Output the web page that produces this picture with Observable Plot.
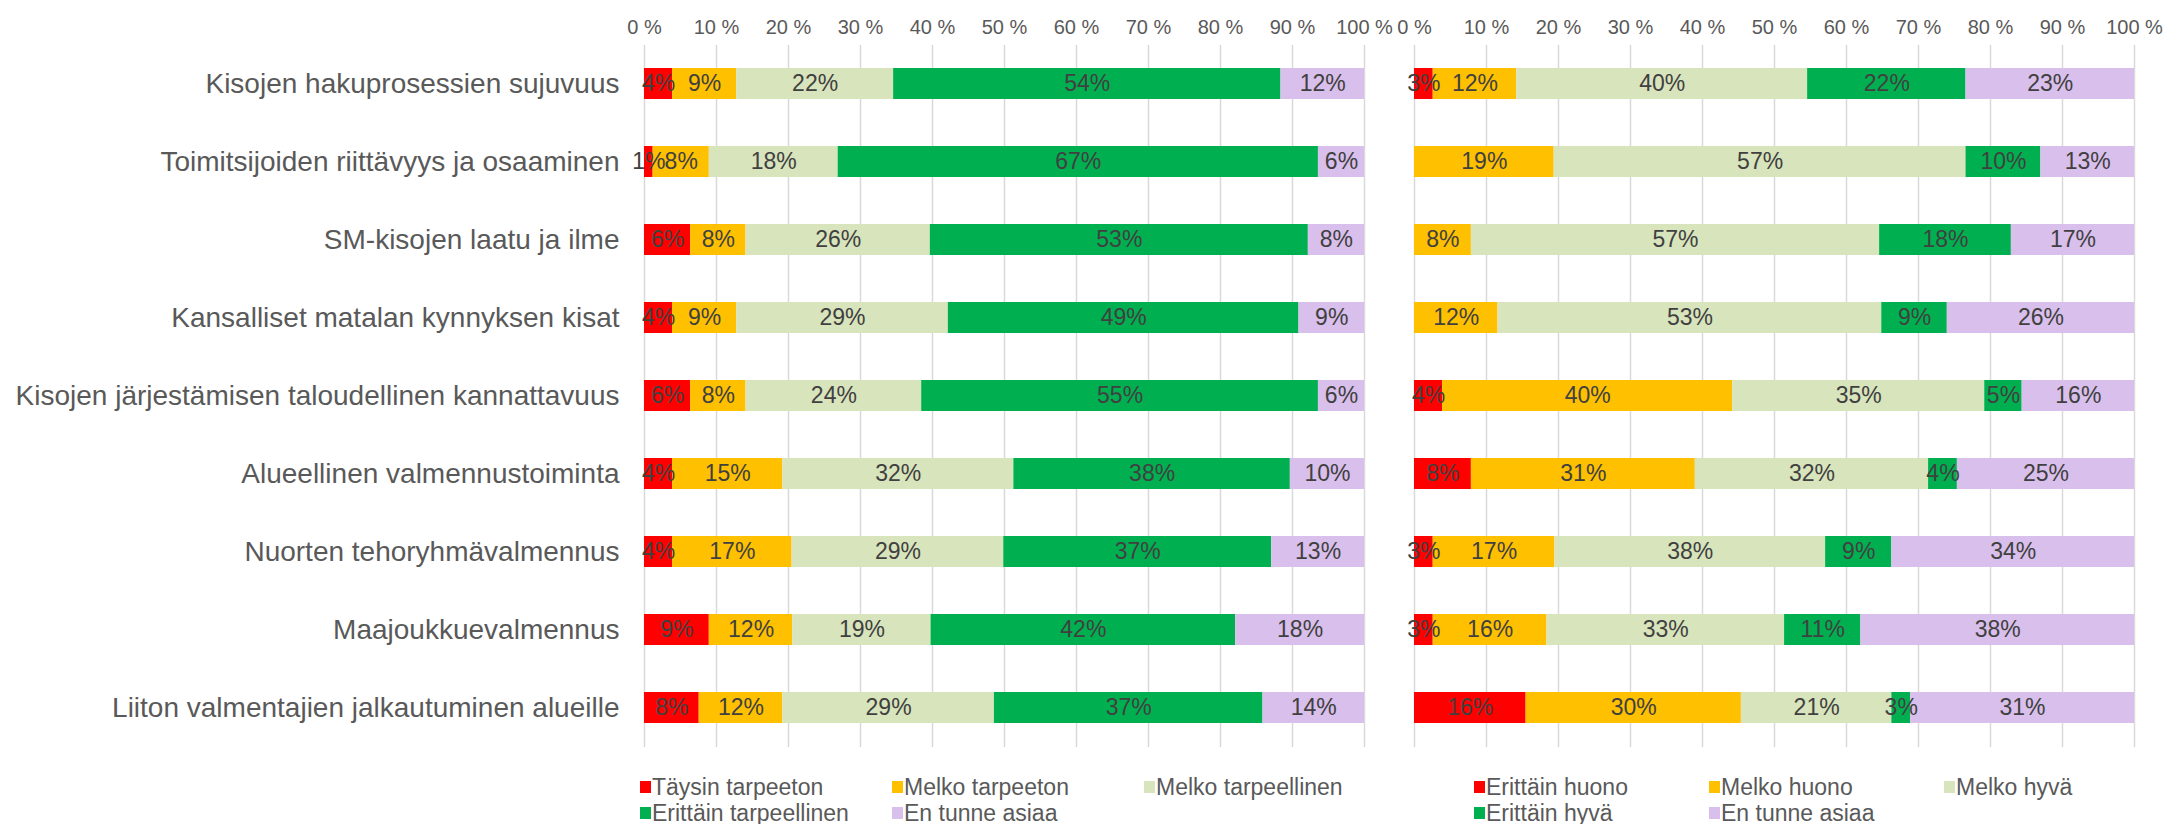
<!DOCTYPE html>
<html>
<head>
<meta charset="utf-8">
<script src="https://cdn.jsdelivr.net/npm/d3@7"></script>
<script src="https://cdn.jsdelivr.net/npm/@observablehq/plot@0.6"></script>
<style>
  html, body { margin: 0; padding: 0; background: #fff; }
  #wrap { position: relative; width: 2179px; height: 824px; font-family: "Liberation Sans", Arial, sans-serif; }
  .leg { position: absolute; height: 26px; line-height: 26px; font-size: 23px; color: #595959; white-space: nowrap; }
  .leg i { position: absolute; left: 0; top: 7px; width: 11px; height: 12px; }
  .leg span { position: absolute; left: 12px; top: 0; }
</style>
</head>
<body>
<div id="wrap"></div>
<script>
// ---- data ----
const items = [
  "Kisojen hakuprosessien sujuvuus",
  "Toimitsijoiden riittävyys ja osaaminen",
  "SM-kisojen laatu ja ilme",
  "Kansalliset matalan kynnyksen kisat",
  "Kisojen järjestämisen taloudellinen kannattavuus",
  "Alueellinen valmennustoiminta",
  "Nuorten tehoryhmävalmennus",
  "Maajoukkuevalmennus",
  "Liiton valmentajien jalkautuminen alueille"
];
const leftCategories = ["Täysin tarpeeton", "Melko tarpeeton", "Melko tarpeellinen", "Erittäin tarpeellinen", "En tunne asiaa"];
const rightCategories = ["Erittäin huono", "Melko huono", "Melko hyvä", "Erittäin hyvä", "En tunne asiaa"];
const colors = ["#FF0000", "#FFC000", "#D8E4BC", "#00B050", "#D9BFEB"];
const tickValues = [0, 10, 20, 30, 40, 50, 60, 70, 80, 90, 100];

// Left panel (tarpeellisuus), one array per category, in item order
const leftTaysinTarpeeton     = [3.9, 1.2, 6.4, 3.9, 6.4, 3.9, 3.9, 9.0, 7.6];
const leftMelkoTarpeeton      = [8.9, 7.8, 7.7, 8.9, 7.7, 15.3, 16.6, 11.6, 11.6];
const leftMelkoTarpeellinen   = [21.8, 17.9, 25.6, 29.4, 24.4, 32.1, 29.4, 19.2, 29.4];
const leftErittainTarpeellinen= [53.8, 66.7, 52.5, 48.7, 55.1, 38.4, 37.2, 42.3, 37.3];
const leftEnTunne             = [11.6, 6.4, 7.8, 9.1, 6.4, 10.3, 12.9, 17.9, 14.1];

// Right panel (onnistuminen)
const rightErittainHuono = [2.6, 0, 0, 0, 3.9, 7.9, 2.6, 2.6, 15.5];
const rightMelkoHuono    = [11.6, 19.4, 7.9, 11.6, 40.3, 31.1, 16.9, 15.8, 29.9];
const rightMelkoHyva     = [40.4, 57.2, 56.7, 53.3, 35.0, 32.4, 37.6, 33.0, 20.9];
const rightErittainHyva  = [22.0, 10.4, 18.3, 9.1, 5.2, 4.0, 9.2, 10.6, 2.6];
const rightEnTunne       = [23.4, 13.0, 17.1, 26.0, 15.6, 24.6, 33.7, 38.0, 31.1];

const panels = ["left", "right"];
const leftSeries = [leftTaysinTarpeeton, leftMelkoTarpeeton, leftMelkoTarpeellinen, leftErittainTarpeellinen, leftEnTunne];
const rightSeries = [rightErittainHuono, rightMelkoHuono, rightMelkoHyva, rightErittainHyva, rightEnTunne];

const data = [];
[[panels[0], leftSeries], [panels[1], rightSeries]].forEach(([panel, series]) => {
  items.forEach((item, i) => {
    series.forEach((arr, level) => {
      data.push({panel, item, level, value: arr[i]});
    });
  });
});

const font = "'Liberation Sans', Arial, sans-serif";

const chart = Plot.plot({
  width: 2179,
  height: 760,
  marginLeft: 644,
  marginRight: 45,
  marginTop: 45,
  marginBottom: 13,
  style: {fontFamily: font, background: "white", overflow: "visible"},
  fx: {domain: panels, axis: null, paddingInner: 0.065, paddingOuter: 0},
  x: {domain: [0, 100]},
  y: {domain: items, paddingInner: 0.6, paddingOuter: 0.3},
  color: {type: "ordinal", domain: [0, 1, 2, 3, 4], range: colors},
  marks: [
    Plot.gridX({ticks: tickValues, stroke: "#D9D9D9", strokeOpacity: 1, strokeWidth: 1.5}),
    Plot.barX(data, Plot.stackX({x: "value", y: "item", fx: "panel", fill: "level"})),
    Plot.text(data, Plot.stackX({
      x: "value", y: "item", fx: "panel",
      filter: d => d.value > 0,
      text: d => Math.round(d.value) + "%",
      fill: "#404040", fontSize: 23
    })),
    Plot.axisX({anchor: "top", ticks: tickValues, tickFormat: d => d + " %", tickSize: 0, tickPadding: 12,
      fontSize: 20, color: "#595959", fill: "#595959", label: null}),
    Plot.axisY({anchor: "left", tickSize: 0, tickPadding: 25, fontSize: 28, color: "#595959", fill: "#595959", label: null})
  ]
});

const wrap = document.getElementById("wrap");
wrap.appendChild(chart);

// ---- legends ----
function legendItem(label, color, x, yCenter) {
  const d = document.createElement("div");
  d.className = "leg";
  d.style.left = x + "px";
  d.style.top = (yCenter - 13) + "px";
  const sw = document.createElement("i");
  sw.style.background = color;
  const t = document.createElement("span");
  t.textContent = label;
  d.appendChild(sw);
  d.appendChild(t);
  wrap.appendChild(d);
}
const leftLegendX = [640, 892, 1144];
const rightLegendX = [1474, 1709, 1944];
const legendRows = [787, 813];
leftCategories.forEach((c, i) => legendItem(c, colors[i], leftLegendX[i % 3], legendRows[Math.floor(i / 3)]));
rightCategories.forEach((c, i) => legendItem(c, colors[i], rightLegendX[i % 3], legendRows[Math.floor(i / 3)]));
</script>
</body>
</html>
